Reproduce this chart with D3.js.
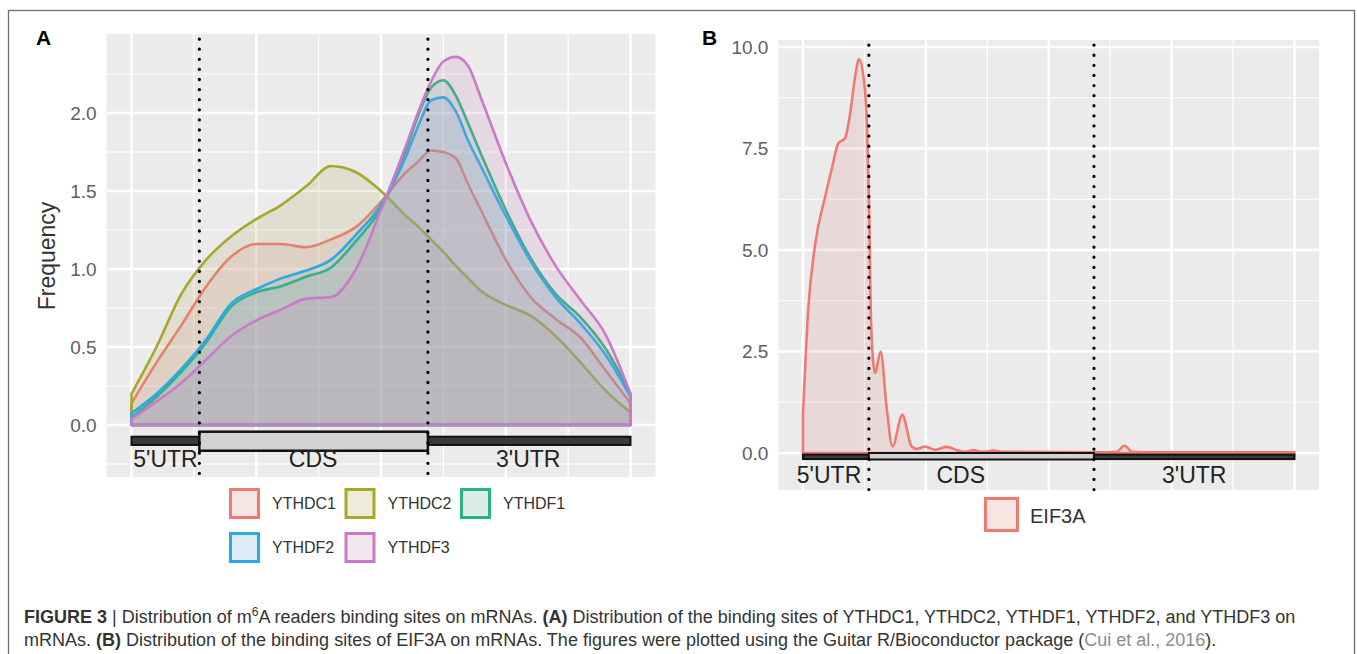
<!DOCTYPE html>
<html>
<head>
<meta charset="utf-8">
<script src="https://cdn.jsdelivr.net/npm/d3@7/dist/d3.min.js"></script>
<style>
body { margin: 0; background: #fff; }
text { font-family: "Liberation Sans", Arial, Helvetica, sans-serif; }
</style>
</head>
<body>
<div class="chart"></div>
<script>
var width = 1357;
var height = 654;

// ---- panel A data: relative position along mRNA, density per reader ----
var readers = ['YTHDC1', 'YTHDC2', 'YTHDF1', 'YTHDF2', 'YTHDF3'];
var readerColors = ['#f07a72', '#a6a82a', '#29b47c', '#2aa9e8', '#cc7ac8'];
var posA = [0, 0.05, 0.1, 0.15, 0.2, 0.25, 0.3, 0.35, 0.4, 0.45, 0.5, 0.55, 0.575, 0.6, 0.625, 0.65, 0.675, 0.7, 0.75, 0.8, 0.85, 0.9, 0.95, 1];
var ythdc1 = [0.14, 0.40, 0.64, 0.89, 1.08, 1.16, 1.16, 1.14, 1.19, 1.27, 1.43, 1.62, 1.69, 1.76, 1.75, 1.71, 1.54, 1.38, 1.06, 0.82, 0.68, 0.56, 0.35, 0.14];
var ythdc2 = [0.20, 0.50, 0.84, 1.06, 1.21, 1.32, 1.41, 1.53, 1.66, 1.62, 1.50, 1.34, 1.27, 1.19, 1.11, 1.02, 0.94, 0.86, 0.77, 0.70, 0.57, 0.40, 0.22, 0.08];
var ythdf1 = [0.05, 0.18, 0.34, 0.53, 0.76, 0.85, 0.89, 0.95, 1.01, 1.18, 1.39, 1.76, 1.99, 2.16, 2.21, 2.11, 1.93, 1.74, 1.38, 1.07, 0.84, 0.69, 0.49, 0.20];
var ythdf2 = [0.075, 0.20, 0.36, 0.55, 0.78, 0.87, 0.94, 0.99, 1.06, 1.22, 1.41, 1.72, 1.92, 2.08, 2.10, 2.01, 1.82, 1.66, 1.34, 1.05, 0.82, 0.65, 0.45, 0.18];
var ythdf3 = [0.04, 0.15, 0.27, 0.42, 0.57, 0.67, 0.74, 0.81, 0.82, 1.00, 1.38, 1.79, 2.01, 2.20, 2.33, 2.36, 2.30, 2.10, 1.68, 1.31, 1.02, 0.80, 0.58, 0.20];
var seriesA = [ythdc1, ythdc2, ythdf1, ythdf2, ythdf3];

// ---- panel B data ----
var eifName = 'EIF3A';
var eifColor = '#f07a72';
var posB = [0, 0.011, 0.024, 0.045, 0.058, 0.072, 0.0855, 0.096, 0.106, 0.114, 0.123, 0.130, 0.1345, 0.1385, 0.1466, 0.158, 0.170, 0.182, 0.202, 0.221, 0.2315, 0.248, 0.269, 0.293, 0.313, 0.33, 0.346, 0.365, 0.3875, 0.41, 0.62, 0.638, 0.654, 0.67, 0.70, 1];
var eif3a = [0.98, 3.6, 5.08, 6.31, 6.97, 7.63, 7.75, 8.37, 9.27, 9.70, 9.27, 8.12, 6.07, 3.2, 1.97, 2.50, 1.14, 0.16, 0.94, 0.16, 0.10, 0.16, 0.08, 0.15, 0.07, 0.03, 0.07, 0.03, 0.06, 0.03, 0.02, 0.03, 0.18, 0.03, 0.02, 0.02];

// ---- axes / gene structure ----
var regions = ["5'UTR", 'CDS', "3'UTR"];
var boundsA = [0, 0.136, 0.594, 1];
var boundsB = [0, 0.134, 0.592, 1];
var regionLabelA = [0.068, 0.364, 0.795];
var regionLabelB = [0.053, 0.321, 0.796];
var xGrid = [0, 0.25, 0.5, 0.75, 1];
var xGridMinor = [0.125, 0.375, 0.625, 0.875];
var yTicksA = [0, 0.5, 1, 1.5, 2];
var yMinorA = [-0.25, 0.25, 0.75, 1.25, 1.75, 2.25];
var yTicksB = [0, 2.5, 5, 7.5, 10];
var yMinorB = [1.25, 3.75, 6.25, 8.75];

// fills are a muted version of the outline colour (the print looks washed out)
function fillOf(c){ return d3.interpolateRgb(c, '#c3aaaa')(0.4) }
var fillOpacity = 0.18;

var svg = d3.select('.chart')
	.append('svg')
	.attr('width', width)
	.attr('height', height);

svg.append('rect')
	.attr('x', 8.5).attr('y', 10.5)
	.attr('width', 1346).attr('height', 700)
	.attr('fill', 'none')
	.attr('stroke', '#6e6e6e')
	.attr('stroke-width', 1.3);

function drawPanel(p) {
	var g = svg.append('g');
	var left = p.x(-0.05), right = p.x(1.05);
	var top = p.y(p.yMax), bottom = p.y(p.yMin);

	g.append('rect')
		.attr('x', left).attr('y', top)
		.attr('width', right - left).attr('height', bottom - top)
		.attr('fill', '#ebebeb');

	// grid
	g.selectAll('.hmin').data(p.yMinor).enter().append('line')
		.attr('x1', left).attr('x2', right)
		.attr('y1', function(d){ return p.y(d) }).attr('y2', function(d){ return p.y(d) })
		.attr('stroke', '#fff').attr('stroke-width', 1.2);
	g.selectAll('.vmin').data(xGridMinor).enter().append('line')
		.attr('y1', top).attr('y2', bottom)
		.attr('x1', function(d){ return p.x(d) }).attr('x2', function(d){ return p.x(d) })
		.attr('stroke', '#fff').attr('stroke-width', 1.2);
	g.selectAll('.hmaj').data(p.yTicks).enter().append('line')
		.attr('x1', left).attr('x2', right)
		.attr('y1', function(d){ return p.y(d) }).attr('y2', function(d){ return p.y(d) })
		.attr('stroke', '#fff').attr('stroke-width', 2.4);
	g.selectAll('.vmaj').data(xGrid).enter().append('line')
		.attr('y1', top).attr('y2', bottom)
		.attr('x1', function(d){ return p.x(d) }).attr('x2', function(d){ return p.x(d) })
		.attr('stroke', '#fff').attr('stroke-width', 2.4);

	// densities
	var area = d3.area()
		.x(function(d){ return p.x(d[0]) })
		.y0(p.y(0))
		.y1(function(d){ return p.y(d[1]) })
		.curve(d3.curveMonotoneX);

	p.series.forEach(function(s, i){
		var pts = p.pos.map(function(x, j){ return [x, s[j]] });
		g.append('path')
			.attr('d', area(pts) + 'Z')
			.attr('fill', fillOf(p.colors[i]))
			.attr('fill-opacity', fillOpacity)
			.attr('stroke', p.colors[i])
			.attr('stroke-width', 2.6)
			.attr('stroke-linejoin', 'round');
	});

	// gene structure
	var b = p.bounds;
	[[b[0], b[1]], [b[2], b[3]]].forEach(function(r){
		g.append('rect')
			.attr('x', p.x(r[0])).attr('width', p.x(r[1]) - p.x(r[0]))
			.attr('y', p.y(p.utr[0])).attr('height', p.y(p.utr[1]) - p.y(p.utr[0]))
			.attr('fill', '#3a3a3a').attr('stroke', '#111').attr('stroke-width', 2);
	});
	g.append('rect')
		.attr('x', p.x(b[1])).attr('width', p.x(b[2]) - p.x(b[1]))
		.attr('y', p.y(p.cds[0])).attr('height', p.y(p.cds[1]) - p.y(p.cds[0]))
		.attr('fill', '#d2d2d2').attr('stroke', '#111').attr('stroke-width', p.cdsStroke);

	g.selectAll('.region').data(regions).enter().append('text')
		.attr('x', function(d, i){ return p.x(p.labelPos[i]) })
		.attr('y', p.y(p.labelY))
		.attr('text-anchor', 'middle')
		.attr('font-size', '23px')
		.attr('fill', '#222')
		.text(function(d){ return d });

	// region boundaries
	g.selectAll('.bound').data([b[1], b[2]]).enter().append('line')
		.attr('x1', function(d){ return p.x(d) }).attr('x2', function(d){ return p.x(d) })
		.attr('y1', top + 5).attr('y2', bottom)
		.attr('stroke', '#000').attr('stroke-width', 3.2)
		.attr('stroke-linecap', 'round')
		.attr('stroke-dasharray', '0.1 10');

	// y axis
	var axis = d3.axisLeft(p.y)
		.tickValues(p.yTicks)
		.tickFormat(d3.format('.1f'))
		.tickSize(0)
		.tickPadding(10);
	var ax = g.append('g').attr('transform', 'translate(' + left + ',0)').call(axis);
	ax.select('.domain').remove();
	ax.selectAll('text')
		.attr('font-size', '19px')
		.attr('font-family', '"Liberation Sans", Arial, sans-serif')
		.attr('fill', '#5e5e5e');

	g.append('text')
		.attr('x', p.tag[0]).attr('y', p.tag[1])
		.attr('font-size', '21px').attr('font-weight', 'bold')
		.attr('fill', '#000')
		.text(p.tagText);
	return g;
}

var xA = d3.scaleLinear().domain([0, 1]).range([131.5, 630.5]);
var yA = d3.scaleLinear().domain([0, 2]).range([425, 113]);
var gA = drawPanel({
	x: xA, y: yA, yMin: -0.333, yMax: 2.506,
	yTicks: yTicksA, yMinor: yMinorA,
	pos: posA, series: seriesA, colors: readerColors,
	bounds: boundsA, utr: [-0.075, -0.128], cds: [-0.043, -0.165], cdsStroke: 2.5,
	labelPos: regionLabelA, labelY: -0.267,
	tag: [36, 45], tagText: 'A'
});
gA.append('text')
	.attr('transform', 'translate(55,256) rotate(-90)')
	.attr('text-anchor', 'middle')
	.attr('font-size', '23px')
	.attr('fill', '#333')
	.text('Frequency');

var xB = d3.scaleLinear().domain([0, 1]).range([803, 1294.5]);
var yB = d3.scaleLinear().domain([0, 10]).range([453, 47]);
var gB = drawPanel({
	x: xB, y: yB, yMin: -0.91, yMax: 10.17,
	yTicks: yTicksB, yMinor: yMinorB,
	pos: posB, series: [eif3a], colors: [eifColor],
	bounds: boundsB, utr: [-0.04, -0.15], cds: [0.0, -0.16], cdsStroke: 2,
	labelPos: regionLabelB, labelY: -0.74,
	tag: [702, 45], tagText: 'B'
});

// legends
var legA = svg.append('g');
readers.forEach(function(name, i){
	var lx = 229 + (i % 3) * 115.5;
	var ly = 488 + Math.floor(i / 3) * 44;
	legA.append('rect')
		.attr('x', lx + 1.5).attr('y', ly + 1.5).attr('width', 28).attr('height', 28)
		.attr('fill', fillOf(readerColors[i])).attr('fill-opacity', fillOpacity + 0.05)
		.attr('stroke', readerColors[i]).attr('stroke-width', 3);
	legA.append('text')
		.attr('x', lx + 43).attr('y', ly + 15.5)
		.attr('dy', '0.35em')
		.attr('font-size', '16px')
		.attr('fill', '#333')
		.text(name);
});

var legB = svg.append('g');
legB.append('rect')
	.attr('x', 985.5).attr('y', 498.5).attr('width', 32).attr('height', 32)
	.attr('fill', fillOf(eifColor)).attr('fill-opacity', fillOpacity + 0.05)
	.attr('stroke', eifColor).attr('stroke-width', 3);
legB.append('text')
	.attr('x', 1030).attr('y', 516).attr('dy', '0.35em')
	.attr('font-size', '20px').attr('fill', '#333')
	.text(eifName);

// caption
var cap = svg.append('g').attr('font-size', '18px').attr('fill', '#333');
var l1 = cap.append('text').attr('x', 24).attr('y', 623);
l1.append('tspan').attr('font-weight', 'bold').text('FIGURE 3');
l1.append('tspan').text(' | Distribution of m');
l1.append('tspan').attr('font-size', '12px').attr('dy', -7).text('6');
l1.append('tspan').attr('dy', 7).text('A readers binding sites on mRNAs. ');
l1.append('tspan').attr('font-weight', 'bold').text('(A)');
l1.append('tspan').text(' Distribution of the binding sites of YTHDC1, YTHDC2, YTHDF1, YTHDF2, and YTHDF3 on');
var l2 = cap.append('text').attr('x', 24).attr('y', 646);
l2.append('tspan').text('mRNAs. ');
l2.append('tspan').attr('font-weight', 'bold').text('(B)');
l2.append('tspan').text(' Distribution of the binding sites of EIF3A on mRNAs. The figures were plotted using the Guitar R/Bioconductor package (');
l2.append('tspan').attr('fill', '#8c8c8c').text('Cui et al., 2016');
l2.append('tspan').text(').');
</script>
</body>
</html>
